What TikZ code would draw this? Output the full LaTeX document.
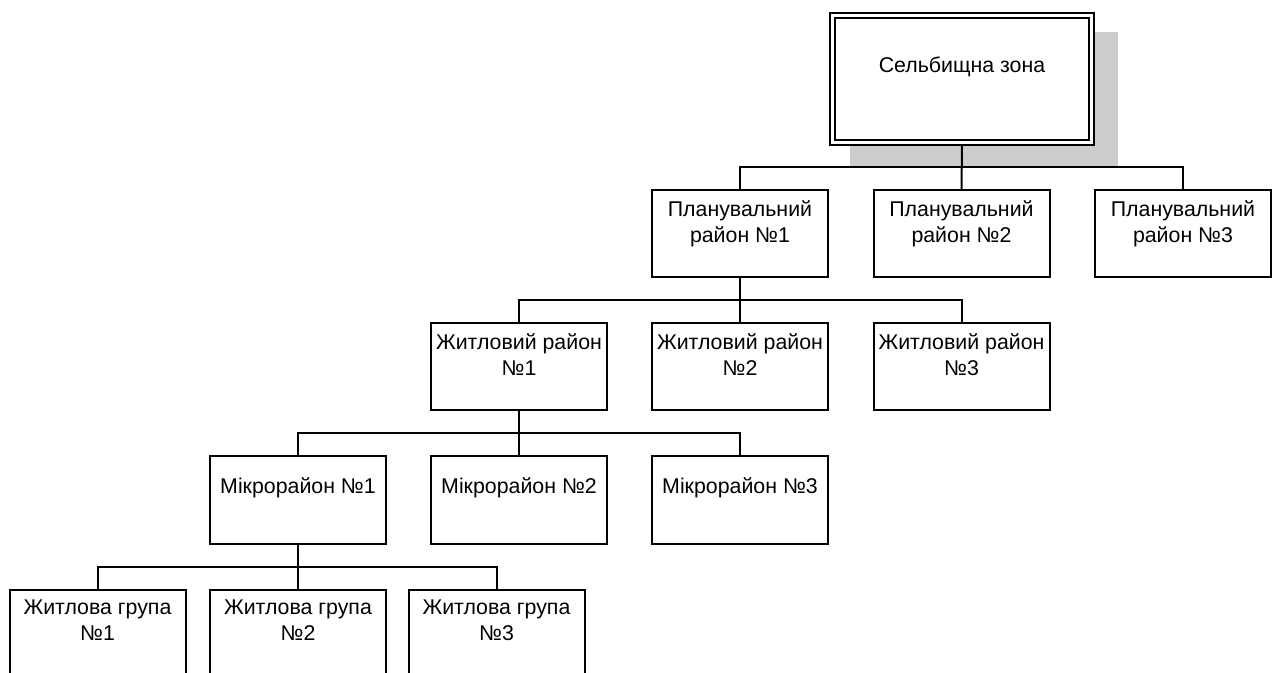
\documentclass[tikz,border=0pt]{standalone}
\usepackage{fontspec}
\setmainfont{Liberation Sans}
\usepackage{tikz}
\pgfdeclarelayer{shadow}
\pgfsetlayers{shadow,main}
\definecolor{colorShadow}{HTML}{CCCCCC}

\begin{document}
\begin{tikzpicture}[x=0.75pt, y=-0.75pt,
    box/.style={draw, line width=1.5pt, minimum width=132pt, minimum height=65.25pt, inner sep=0pt},
    zonebox/.style={draw, fill=white, double, line width=1.5pt, double distance=2.25pt, minimum width=194.25pt, minimum height=95.25pt, outer sep=2.6pt},
    boxtext/.style={anchor=north, inner sep=0pt, align=center, font=\fontsize{16}{19.5}\selectfont},
    link/.style={line width=1.5pt}]
    \useasboundingbox (0,0) rectangle (1275,673);
    \clip (0,0) rectangle (1275,673);
    \begin{pgfonlayer}{shadow}
        \fill[colorShadow] (850,32) rectangle (1118,166);
    \end{pgfonlayer}
        \node[zonebox] (zone) at (962,79) {};
        \node[boxtext] (zonet) at ([yshift=-33.5pt]zone.north) {Сельбищна зона};

        \node[box] (plan1) at (740,233.5) {};
        \node[box] (plan2) at (961.5,233.5) {};
        \node[box] (plan3) at (1183,233.5) {};
        \node[boxtext] (plan1t) at ([yshift=-8.6pt]plan1.north) {Планувальний\\район №1};
        \node[boxtext] (plan2t) at ([yshift=-8.6pt]plan2.north) {Планувальний\\район №2};
        \node[boxtext] (plan3t) at ([yshift=-8.6pt]plan3.north) {Планувальний\\район №3};

        \node[box] (zr1) at (519,366.5) {};
        \node[box] (zr2) at (740,366.5) {};
        \node[box] (zr3) at (961.5,366.5) {};
        \node[boxtext] (zr1t) at ([yshift=-8.6pt]zr1.north) {Житловий район\\№1};
        \node[boxtext] (zr2t) at ([yshift=-8.6pt]zr2.north) {Житловий район\\№2};
        \node[boxtext] (zr3t) at ([yshift=-8.6pt]zr3.north) {Житловий район\\№3};

        \node[box] (mr1) at (298,500) {};
        \node[box] (mr2) at (519,500) {};
        \node[box] (mr3) at (740,500) {};
        \node[boxtext] (mr1t) at ([yshift=-16.5pt]mr1.north) {Мікрорайон №1};
        \node[boxtext] (mr2t) at ([yshift=-16.5pt]mr2.north) {Мікрорайон №2};
        \node[boxtext] (mr3t) at ([yshift=-16.5pt]mr3.north) {Мікрорайон №3};

        \node[box] (jg1) at (97.5,633) {};
        \node[box] (jg2) at (298,633) {};
        \node[box] (jg3) at (496.5,633) {};
        \node[boxtext] (jg1t) at ([yshift=-8.6pt]jg1.north) {Житлова група\\№1};
        \node[boxtext] (jg2t) at ([yshift=-8.6pt]jg2.north) {Житлова група\\№2};
        \node[boxtext] (jg3t) at ([yshift=-8.6pt]jg3.north) {Житлова група\\№3};

        \draw[link] (zone.south) -- (plan2.north);
        \draw[link] (plan1.north) -- ++(0,-22) -| (plan3.north);
        \draw[link] (plan1.south) -- (zr2.north);
        \draw[link] (zr1.north) -- ++(0,-22) -| (zr3.north);
        \draw[link] (zr1.south) -- (mr2.north);
        \draw[link] (mr1.north) -- ++(0,-22) -| (mr3.north);
        \draw[link] (mr1.south) -- (jg2.north);
        \draw[link] (jg1.north) -- ++(0,-22) -| (jg3.north);
    \end{tikzpicture}
\end{document}
